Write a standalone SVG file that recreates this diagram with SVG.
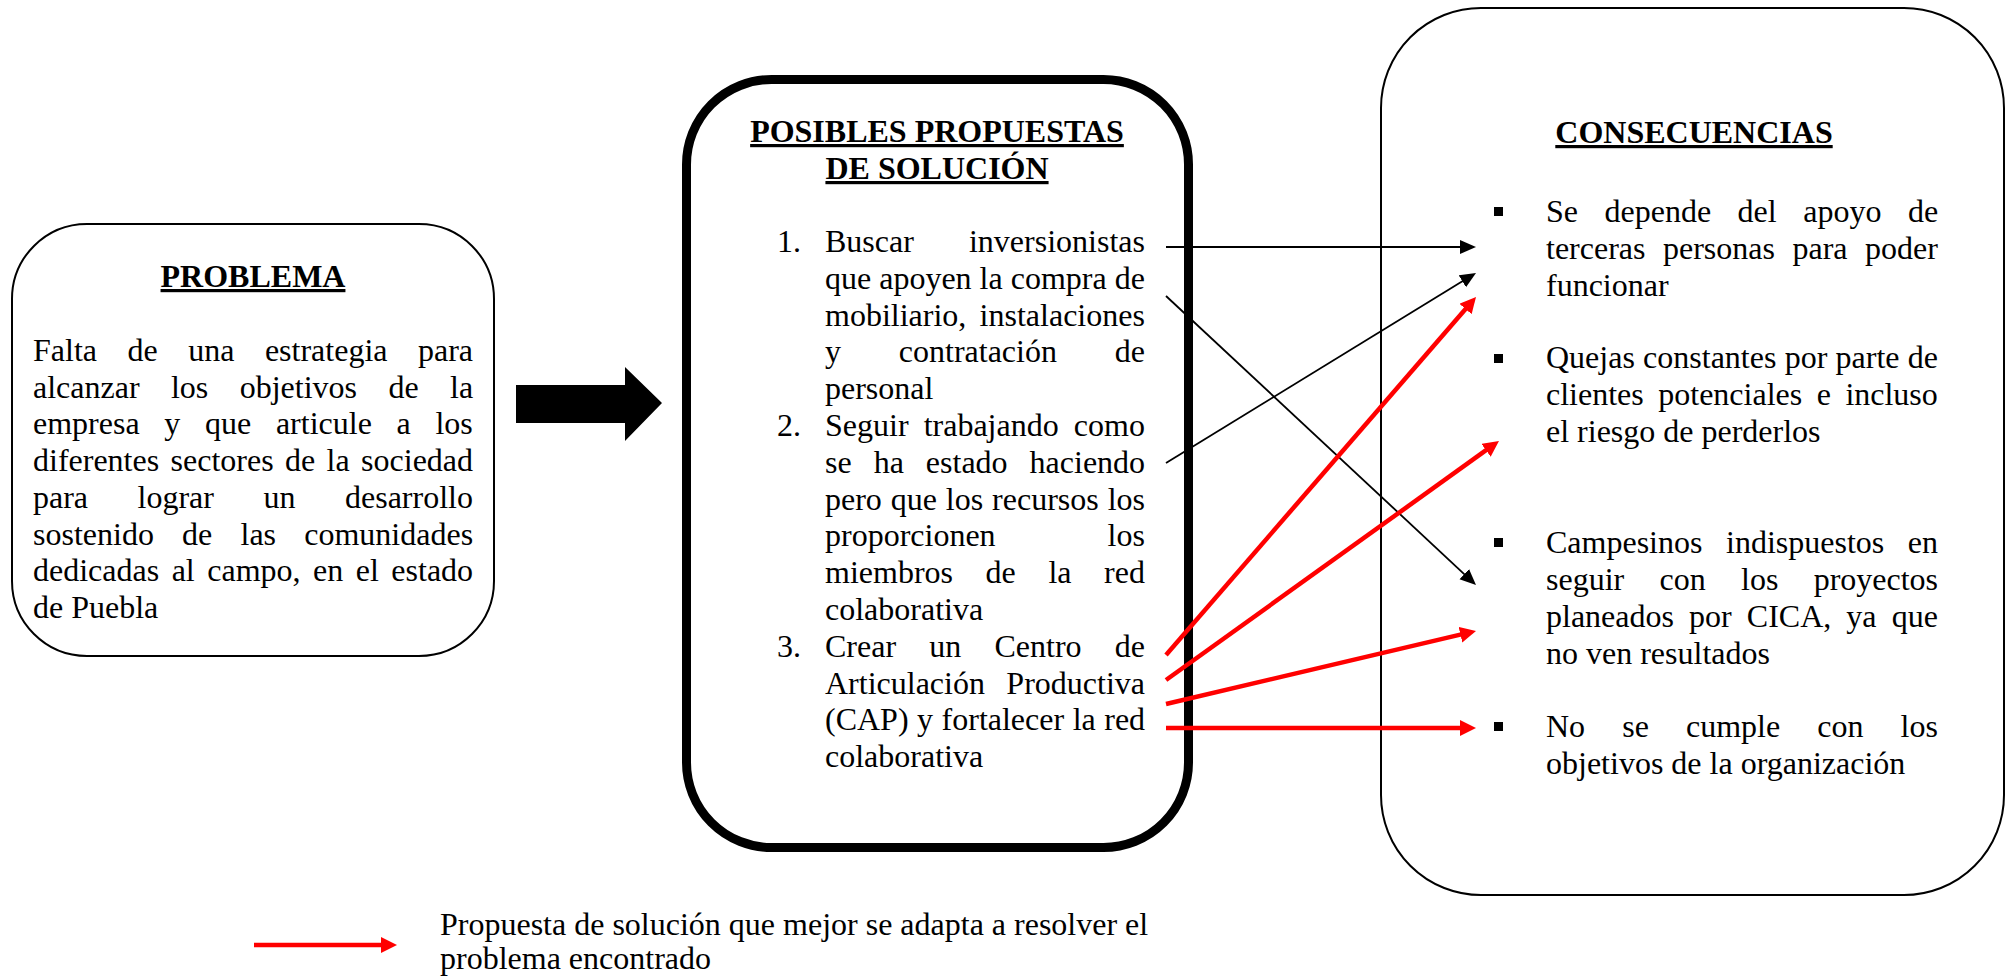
<svg xmlns="http://www.w3.org/2000/svg" width="2009" height="978" viewBox="0 0 2009 978">
<style>
text{font-family:"Liberation Serif","Times New Roman",serif;font-size:32px;fill:#000}
.t{font-weight:bold;text-decoration:underline;text-anchor:middle}
.box{fill:#fff;stroke:#000}
.bk{stroke:#000;stroke-width:1.8;fill:none}
.rd{stroke:#ff0000;stroke-width:4.5;fill:none}
</style>
<defs>
<marker id="ab" markerUnits="userSpaceOnUse" markerWidth="18" markerHeight="16" refX="1" refY="7" orient="auto"><path d="M0,0 L16,7 L0,14 Z" fill="#000"/></marker>
<marker id="ar" markerUnits="userSpaceOnUse" markerWidth="18" markerHeight="18" refX="1" refY="8" orient="auto"><path d="M0,0 L16,8 L0,16 Z" fill="#ff0000"/></marker>
</defs>
<rect width="2009" height="978" fill="#fff"/>

<g id="problema">
<rect class="box" x="12" y="224" width="482" height="432" rx="75" stroke-width="2"/>
<text class="t" x="253" y="287">PROBLEMA</text>
<text x="33" y="361" word-spacing="22.5">Falta de una estrategia para</text>
<text x="33" y="397.7" word-spacing="23.4">alcanzar los objetivos de la</text>
<text x="33" y="434.4" word-spacing="16.7">empresa y que articule a los</text>
<text x="33" y="471.1" word-spacing="3.4">diferentes sectores de la sociedad</text>
<text x="33" y="507.8" word-spacing="41.5">para lograr un desarrollo</text>
<text x="33" y="544.5" word-spacing="20.2">sostenido de las comunidades</text>
<text x="33" y="581.2" word-spacing="4.5">dedicadas al campo, en el estado</text>
<text x="33" y="617.9">de Puebla</text>
</g>

<g id="flecha">
<polygon points="516,385 625,385 625,367 662,403 625,441 625,423 516,423" fill="#000"/>
</g>

<g id="propuestas">
<rect class="box" x="686.5" y="79.5" width="502" height="768" rx="85" stroke-width="9"/>
<text class="t" x="937" y="142">POSIBLES PROPUESTAS</text>
<text class="t" x="937" y="179">DE SOLUCIÓN</text>
<text x="777" y="252">1.</text>
<text x="777" y="436">2.</text>
<text x="777" y="656.8">3.</text>
<text x="825" y="252" word-spacing="47.1">Buscar inversionistas</text>
<text x="825" y="288.8">que apoyen la compra de</text>
<text x="825" y="325.6" word-spacing="5.3">mobiliario, instalaciones</text>
<text x="825" y="362.4" word-spacing="49.8">y contratación de</text>
<text x="825" y="399.2">personal</text>
<text x="825" y="436" word-spacing="7.1">Seguir trabajando como</text>
<text x="825" y="472.8" word-spacing="14">se ha estado haciendo</text>
<text x="825" y="509.6" word-spacing="0.9">pero que los recursos los</text>
<text x="825" y="546.4" word-spacing="104">proporcionen los</text>
<text x="825" y="583.2" word-spacing="24.6">miembros de la red</text>
<text x="825" y="620">colaborativa</text>
<text x="825" y="656.8" word-spacing="25.2">Crear un Centro de</text>
<text x="825" y="693.6" word-spacing="13.4">Articulación Productiva</text>
<text x="825" y="730.4" word-spacing="0.5">(CAP) y fortalecer la red</text>
<text x="825" y="767.2">colaborativa</text>
</g>

<g id="consecuencias">
<rect class="box" x="1381" y="8" width="623" height="887" rx="100" stroke-width="2"/>
<text class="t" x="1694" y="143">CONSECUENCIAS</text>
<rect x="1494" y="207" width="9" height="9" fill="#000"/>
<rect x="1494" y="354" width="9" height="9" fill="#000"/>
<rect x="1494" y="538" width="9" height="9" fill="#000"/>
<rect x="1494" y="722" width="9" height="9" fill="#000"/>
<text x="1546" y="222" word-spacing="18.5">Se depende del apoyo de</text>
<text x="1546" y="259" word-spacing="9.5">terceras personas para poder</text>
<text x="1546" y="296">funcionar</text>
<text x="1546" y="368" word-spacing="0.25">Quejas constantes por parte de</text>
<text x="1546" y="405" word-spacing="6.5">clientes potenciales e incluso</text>
<text x="1546" y="442">el riesgo de perderlos</text>
<text x="1546" y="553" word-spacing="15.6">Campesinos indispuestos en</text>
<text x="1546" y="590" word-spacing="27.3">seguir con los proyectos</text>
<text x="1546" y="627" word-spacing="7.1">planeados por CICA, ya que</text>
<text x="1546" y="664">no ven resultados</text>
<text x="1546" y="737" word-spacing="29.1">No se cumple con los</text>
<text x="1546" y="774">objetivos de la organización</text>
</g>

<g id="conectores">
<line class="bk" x1="1166" y1="247" x2="1461" y2="247" marker-end="url(#ab)"/>
<line class="bk" x1="1166" y1="296" x2="1465" y2="574.8" marker-end="url(#ab)"/>
<line class="bk" x1="1166" y1="463" x2="1463.2" y2="280.8" marker-end="url(#ab)"/>
<line class="rd" x1="1166" y1="655" x2="1466.2" y2="308.3" marker-end="url(#ar)"/>
<line class="rd" x1="1166" y1="680" x2="1486.8" y2="449.7" marker-end="url(#ar)"/>
<line class="rd" x1="1166" y1="704" x2="1461.4" y2="634.4" marker-end="url(#ar)"/>
<line class="rd" x1="1166" y1="728" x2="1461" y2="728" marker-end="url(#ar)"/>
</g>

<g id="leyenda">
<line class="rd" x1="254" y1="945" x2="382" y2="945" marker-end="url(#ar)"/>
<text x="440" y="935">Propuesta de solución que mejor se adapta a resolver el</text>
<text x="440" y="969">problema encontrado</text>
</g>
</svg>
